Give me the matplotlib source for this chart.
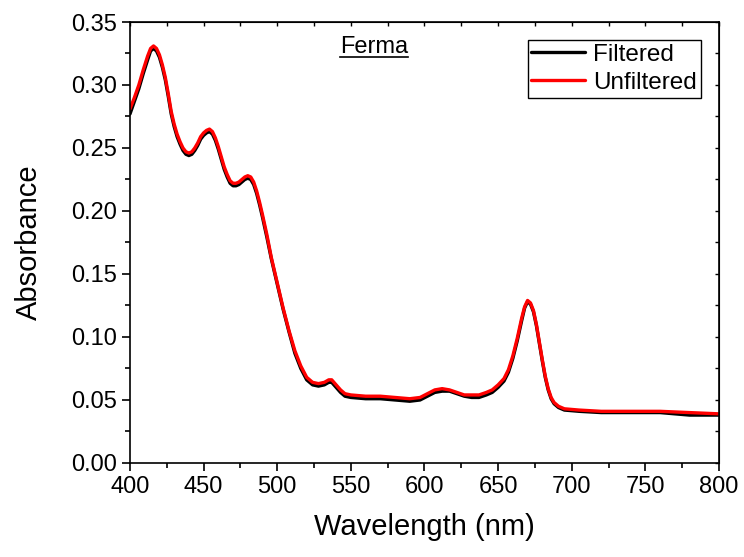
import numpy as np
import matplotlib
matplotlib.use("Agg")
import matplotlib.pyplot as plt
from matplotlib.lines import Line2D
from matplotlib.ticker import MultipleLocator, FormatStrFormatter

plt.rcParams['font.family'] = ['Liberation Sans', 'DejaVu Sans']

# wavelength grid (nm)
wavelength = [400, 403, 406, 409, 412, 414, 416, 418, 420, 422, 424, 426, 428, 430,
              432, 434, 436, 438, 440, 442, 444, 446, 448, 450, 452, 454, 456, 458,
              460, 462, 464, 466, 468, 470, 472, 474, 476, 478, 480, 482, 484, 486,
              488, 490, 493, 496, 500, 504, 508, 512, 516, 520, 524, 528, 532, 535,
              537, 540, 543, 546, 550, 560, 570, 580, 590, 597, 602, 607, 612, 617,
              622, 627, 632, 637, 642, 646, 650, 654, 657, 660, 663, 666, 668, 670,
              672, 674, 676, 678, 680, 682, 684, 686, 688, 691, 695, 705, 720, 740,
              760, 780, 800]

filtered = [0.277, 0.287, 0.297, 0.309, 0.320, 0.327, 0.329, 0.327, 0.322, 0.314,
            0.304, 0.291, 0.277, 0.267, 0.259, 0.253, 0.248, 0.245, 0.244, 0.245,
            0.248, 0.252, 0.257, 0.260, 0.262, 0.263, 0.261, 0.256, 0.249, 0.241,
            0.233, 0.227, 0.222, 0.220, 0.220, 0.221, 0.223, 0.225, 0.226, 0.225,
            0.221, 0.214, 0.205, 0.195, 0.179, 0.162, 0.142, 0.122, 0.104, 0.087,
            0.075, 0.066, 0.062, 0.061, 0.062, 0.064, 0.064, 0.060, 0.056, 0.053,
            0.052, 0.051, 0.051, 0.050, 0.049, 0.050, 0.053, 0.056, 0.057, 0.057,
            0.055, 0.053, 0.052, 0.052, 0.054, 0.056, 0.060, 0.065, 0.072, 0.083,
            0.097, 0.113, 0.123, 0.128, 0.126, 0.120, 0.109, 0.095, 0.081, 0.068,
            0.058, 0.051, 0.047, 0.044, 0.042, 0.041, 0.040, 0.040, 0.040, 0.038,
            0.038]

unfiltered = [0.281, 0.290, 0.300, 0.312, 0.323, 0.329, 0.331, 0.329, 0.324, 0.316,
              0.306, 0.293, 0.279, 0.269, 0.261, 0.255, 0.250, 0.247, 0.246, 0.247,
              0.250, 0.254, 0.259, 0.262, 0.264, 0.265, 0.263, 0.258, 0.251, 0.243,
              0.235, 0.229, 0.224, 0.222, 0.222, 0.223, 0.225, 0.227, 0.228, 0.227,
              0.223, 0.216, 0.207, 0.197, 0.181, 0.163, 0.143, 0.123, 0.105, 0.089,
              0.077, 0.068, 0.064, 0.063, 0.064, 0.066, 0.066, 0.062, 0.058, 0.055,
              0.054, 0.053, 0.053, 0.052, 0.051, 0.052, 0.055, 0.058, 0.059, 0.058,
              0.056, 0.054, 0.054, 0.054, 0.056, 0.058, 0.062, 0.067, 0.074, 0.085,
              0.099, 0.115, 0.124, 0.129, 0.127, 0.121, 0.110, 0.096, 0.082, 0.069,
              0.059, 0.052, 0.048, 0.045, 0.043, 0.042, 0.041, 0.041, 0.041, 0.040,
              0.039]

fig = plt.figure(figsize=(7.44, 5.57), dpi=100)
ax = fig.add_axes([0.1747, 0.1688, 0.7917, 0.7917])

ax.plot(wavelength, filtered, color='black', lw=2.4, label='Filtered',
        solid_joinstyle='round', solid_capstyle='round')
ax.plot(wavelength, unfiltered, color='red', lw=2.4, label='Unfiltered',
        solid_joinstyle='round', solid_capstyle='round')

ax.set_xlim(400, 800)
ax.set_ylim(0, 0.35)
ax.xaxis.set_major_locator(MultipleLocator(50))
ax.xaxis.set_minor_locator(MultipleLocator(25))
ax.yaxis.set_major_locator(MultipleLocator(0.05))
ax.yaxis.set_minor_locator(MultipleLocator(0.025))
ax.yaxis.set_major_formatter(FormatStrFormatter('%.2f'))

for s in ax.spines.values():
    s.set_linewidth(1.2)

ax.tick_params(which='both', direction='out', width=1.2, labelsize=17,
               top=False, right=False)
ax.tick_params(which='major', length=6)
ax.tick_params(which='minor', length=3.5)

# inward ticks on top and right, as in Origin plots
sec_x = ax.secondary_xaxis('top')
sec_x.xaxis.set_major_locator(MultipleLocator(50))
sec_x.xaxis.set_minor_locator(MultipleLocator(25))
sec_x.tick_params(which='both', direction='in', length=3, width=1.0, labeltop=False)
sec_y = ax.secondary_yaxis('right')
sec_y.yaxis.set_major_locator(MultipleLocator(0.05))
sec_y.yaxis.set_minor_locator(MultipleLocator(0.025))
sec_y.tick_params(which='both', direction='in', length=3, width=1.0, labelright=False)

ax.set_xlabel('Wavelength (nm)', fontsize=21, labelpad=11)
ax.set_ylabel('Absorbance', fontsize=21, labelpad=20)

leg = ax.legend(loc='upper right', fontsize=17.5, frameon=True, fancybox=False,
                edgecolor='black', framealpha=1, handlelength=2.2,
                handletextpad=0.35, labelspacing=0.25, borderpad=0.15,
                borderaxespad=0.75)
leg.get_frame().set_linewidth(1.0)

title = ax.text(0.414, 0.943, 'Ferma', transform=ax.transAxes, fontsize=17,
                ha='center', va='center')

# underline the title
fig.canvas.draw()
bb = title.get_window_extent().transformed(fig.transFigure.inverted())
fig.add_artist(Line2D([bb.x0, bb.x1], [bb.y0 + 0.002, bb.y0 + 0.002],
                      transform=fig.transFigure, color='black', lw=1.2))

fig.savefig('out.png', dpi=100)
